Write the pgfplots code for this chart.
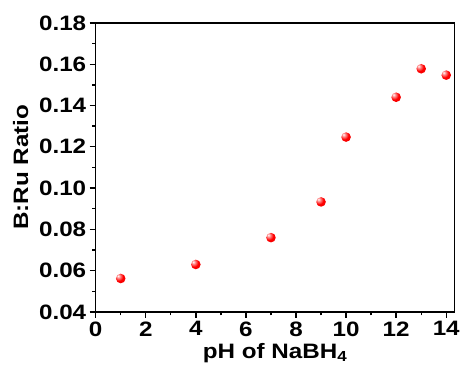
\documentclass[border=0pt]{standalone}
\usepackage{fontspec}
\setmainfont{Liberation Sans}[FakeStretch=1.16]
\usepackage{pgfplots}
\pgfplotsset{compat=1.18}
\pgfdeclareradialshading{redball}{\pgfpoint{-14bp}{14bp}}{%
  color(0bp)=(white); color(9bp)=(red!45!white); color(22bp)=(red);
  color(45bp)=(red!90!black); color(60bp)=(red!72!black); color(80bp)=(red!65!black)}
\pgfdeclareplotmark{redball}{%
  \pgfpathcircle{\pgfpointorigin}{\pgfplotmarksize}%
  \pgfshadepath{redball}{0}%
  \pgfusepath{}}
\newcommand{\bigfont}{\fontsize{21}{23}\selectfont\bfseries}
\begin{document}
\begin{tikzpicture}
\begin{axis}[
  scale only axis,
  width=360bp, height=290bp,
  xmin=0, xmax=14.33, ymin=0.04, ymax=0.18,
  xtick={0,2,...,14}, ytick={0.04,0.06,...,0.181},
  minor x tick num=1, minor y tick num=1,
  tick pos=left, tick align=outside,
  major tick length=6bp, minor tick length=3.5bp,
  every tick/.style={line width=1.4pt, black},
  axis line style={line width=1.6pt},
  /pgf/number format/assume math mode=true,
  tick label style={font=\bigfont},
  label style={font=\bigfont},
  yticklabel style={/pgf/number format/.cd, fixed, fixed zerofill, precision=2},
  xlabel={pH of NaBH\textsubscript{4}},
  ylabel={B:Ru Ratio},
  ylabel style={yshift=4bp},
  xlabel style={yshift=0bp},
  clip=false,
]
\addplot[only marks, mark=redball, mark size=4.8bp] coordinates {
(1,0.0562) (4,0.0630) (7,0.0760) (9,0.0933) (10,0.1247) (12,0.1440) (13,0.1578) (14,0.1547)
};
\end{axis}
\path[use as bounding box] (-96bp,-64bp) rectangle (367bp,313bp);
\end{tikzpicture}
\end{document}
